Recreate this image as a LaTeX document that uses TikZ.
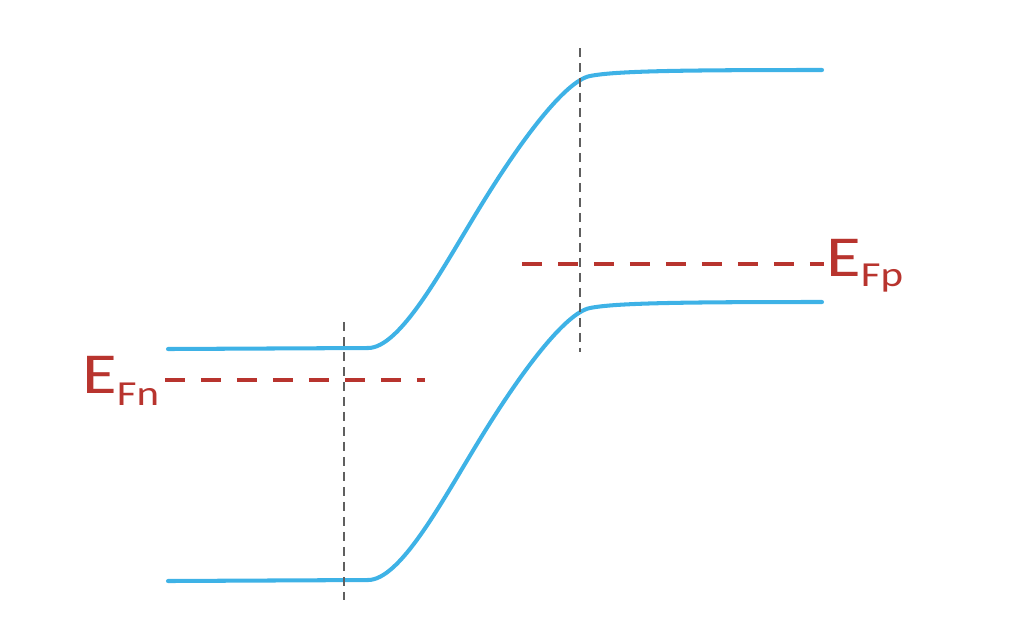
\documentclass[tikz,border=0pt]{standalone}
\usepackage{fontspec}
\setmainfont{Carlito}
\usetikzlibrary{positioning}

\definecolor{bandblue}{RGB}{62,178,230}
\definecolor{fermired}{RGB}{184,52,46}
\definecolor{guidegray}{RGB}{95,95,95}

% wide label E with a dropped subscript
\newcommand{\qlevel}[2]{\scalebox{1.22}[1]{E\raisebox{-#2}{\fontsize{20}{20}\selectfont #1}}}

\begin{document}
\begin{tikzpicture}[
    x=0.02cm, y=-0.02cm,
    band/.style={draw=bandblue, line width=2.3pt, line cap=round},
    fermi/.style={draw=fermired, line width=2.3pt, dash pattern=on 0.4cm off 0.32cm},
    guide/.style={draw=guidegray, line width=1.1pt, dash pattern=on 0.18cm off 0.12cm},
    elabel/.style={text=fermired, inner sep=0pt, font=\fontsize{33}{33}\selectfont},
]
\useasboundingbox (0,0) rectangle (1020,620);

% band edges (conduction and valence)
\foreach \dy in {0,232} {
  \draw[band, yshift=-\dy*0.02cm]
    (168,349) -- (368,348)
    .. controls (400,348) and (441,271) .. (477,212)
    .. controls (520,141) and (565,81) .. (590,76)
    .. controls (615,71) and (680,70) .. (822,70);
}

% depletion edges
\coordinate (gl-top) at (344,322);
\coordinate (gl-bot) at (344,600);
\coordinate (gr-top) at (580,48);
\coordinate (gr-bot) at (580,352);
\draw[guide] (gl-top) -- (gl-bot);
\draw[guide] (gr-top) -- (gr-bot);

% quasi Fermi levels
\node[elabel, anchor=base west] (efn) at (82,393) {\qlevel{Fn}{0.24cm}};
\node[elabel, anchor=base west] (efp) at (826,276) {\qlevel{Fp}{0.21cm}};
\coordinate (fn-a) at (165,380);
\coordinate (fn-b) at (425,380);
\coordinate (fp-a) at (522,264);
\coordinate (fp-b) at (824,264);
\draw[fermi] (fn-a) -- (fn-b);
\draw[fermi] (fp-a) -- (fp-b);
\end{tikzpicture}
\end{document}
